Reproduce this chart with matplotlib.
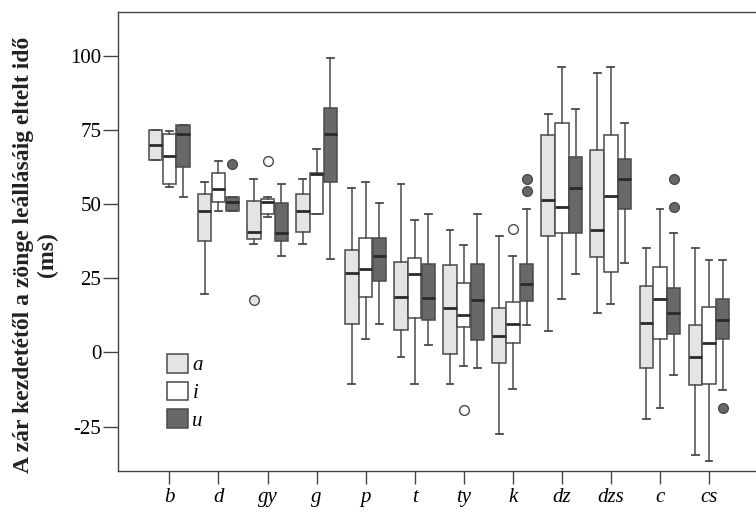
import matplotlib
matplotlib.use("Agg")
import matplotlib.pyplot as plt
from matplotlib.patches import Patch

categories = ["b", "d", "gy", "g", "p", "t", "ty", "k", "dz", "dzs", "c", "cs"]
vowels = ["a", "i", "u"]

# a
a_lo  = [64.8, 19.8, 36.5, 36.5, -10.5, -1.5, -10.5, -27.4, 7.4, 13.4, -22.6, -34.7]
a_q1  = [64.8, 37.7, 38.2, 40.6, 9.5, 7.5, -0.4, -3.5, 39.3, 32.3, -5.4, -11.1]
a_med = [70.0, 47.7, 40.8, 47.7, 26.7, 18.6, 15.1, 5.6, 51.5, 41.3, 9.8, -1.6]
a_q3  = [75.0, 53.6, 51.0, 53.6, 34.6, 30.5, 29.5, 15.0, 73.4, 68.3, 22.4, 9.2]
a_hi  = [75.0, 57.7, 58.7, 58.7, 55.6, 56.8, 41.5, 39.4, 80.4, 94.3, 35.4, 35.4]
a_fl  = [[], [], [17.6], [], [], [], [], [], [], [], [], []]

# i
i_lo  = [55.9, 47.7, 45.8, 46.6, 4.5, -10.5, -4.6, -12.5, 18.2, 16.5, -18.7, -36.7]
i_q1  = [56.8, 50.8, 46.6, 46.6, 18.6, 11.5, 8.5, 3.3, 40.4, 27.3, 4.4, -10.8]
i_med = [66.3, 55.3, 50.8, 60.1, 28.2, 26.6, 12.5, 9.5, 49.2, 52.8, 17.9, 3.3]
i_q3  = [73.6, 60.7, 51.9, 60.7, 38.5, 32.0, 23.5, 17.1, 77.4, 73.3, 28.9, 15.3]
i_hi  = [74.8, 64.6, 52.5, 68.6, 57.5, 44.7, 36.3, 32.5, 96.2, 96.2, 48.3, 31.2]
i_fl  = [[], [], [64.6], [], [], [], [-19.5], [41.6], [], [], [], []]

# u
u_lo  = [52.6, 47.6, 32.5, 31.6, 9.5, 2.5, -5.4, 9.2, 26.5, 30.3, -7.7, -12.7]
u_q1  = [62.7, 47.6, 37.6, 57.5, 24.0, 10.9, 4.1, 17.3, 40.3, 48.3, 6.3, 4.4]
u_med = [73.8, 50.9, 40.2, 73.8, 32.5, 18.5, 17.6, 23.2, 55.4, 58.4, 13.4, 10.9]
u_q3  = [76.7, 52.6, 50.6, 82.5, 38.5, 30.0, 30.0, 29.7, 65.9, 65.3, 21.8, 18.2]
u_hi  = [76.7, 52.6, 56.8, 99.5, 50.6, 46.6, 46.6, 48.3, 82.3, 77.3, 40.2, 31.2]
u_fl  = [[], [63.7], [], [], [], [], [], [54.5, 58.4], [], [], [49.2, 58.4], [-18.8]]

yticks = [-25, 0, 25, 50, 75, 100]
ylabel = "A zár kezdetétől a zönge leállásáig eltelt idő\n(ms)"

series = [
    (a_lo, a_q1, a_med, a_q3, a_hi, a_fl),
    (i_lo, i_q1, i_med, i_q3, i_hi, i_fl),
    (u_lo, u_q1, u_med, u_q3, u_hi, u_fl),
]
face_colors = ["#e4e4e6", "#ffffff", "#686868"]
edge_color = "#4a4a4a"

plt.rcParams["font.family"] = ["Liberation Serif", "DejaVu Serif"]

fig = plt.figure(figsize=(7.56, 5.13), dpi=100)
ax = fig.add_axes([0.156, 0.082, 0.85, 0.895])

width = 0.28
offsets = [-width, 0.0, width]

for k, (lo, q1, med, q3, hi, fl) in enumerate(series):
    stats = []
    for j in range(len(categories)):
        stats.append(dict(whislo=lo[j], q1=q1[j], med=med[j], q3=q3[j],
                          whishi=hi[j], fliers=fl[j], label=categories[j]))
    pos = [j + offsets[k] for j in range(len(categories))]
    ax.bxp(stats, positions=pos, widths=width * 0.98, capwidths=width * 0.5,
           showfliers=True, patch_artist=True, manage_ticks=False,
           boxprops=dict(facecolor=face_colors[k], edgecolor=edge_color, linewidth=1.1),
           whiskerprops=dict(color=edge_color, linewidth=1.1),
           capprops=dict(color=edge_color, linewidth=1.3),
           medianprops=dict(color="#2a2a2a", linewidth=2.0),
           flierprops=dict(marker="o", markersize=7, markerfacecolor=face_colors[k],
                           markeredgecolor=edge_color, markeredgewidth=1.0))

ax.set_xlim(-1.05, 12.05)
ax.set_ylim(-40, 115)
ax.set_xticks(range(len(categories)))
ax.set_xticklabels(categories, fontstyle="italic", fontsize=15)
ax.set_yticks(yticks)
ax.set_yticklabels([str(v) for v in yticks], fontsize=15)
ax.tick_params(axis="y", length=11, width=1.0, color="#444444", pad=1)
ax.tick_params(axis="x", length=9, width=1.0, color="#444444", pad=3)
for s in ["left", "top", "bottom"]:
    ax.spines[s].set_color("#444444")
    ax.spines[s].set_linewidth(1.0)
ax.spines["right"].set_visible(False)

fig.text(0.047, 0.503, ylabel, rotation=90, ha="center", va="center",
         multialignment="center", fontsize=17, fontweight="bold",
         linespacing=1.15, color="#222222")

handles = [Patch(facecolor=face_colors[k], edgecolor=edge_color, linewidth=1.1)
           for k in range(3)]
ax.legend(handles, vowels, loc="upper left", bbox_to_anchor=(0.077, 0.255),
          frameon=False, prop=dict(style="italic", size=15),
          handlelength=1.0, handleheight=1.0, handletextpad=0.2,
          labelspacing=0.3, borderpad=0, borderaxespad=0)

fig.savefig("out.png", dpi=100, facecolor="white")
